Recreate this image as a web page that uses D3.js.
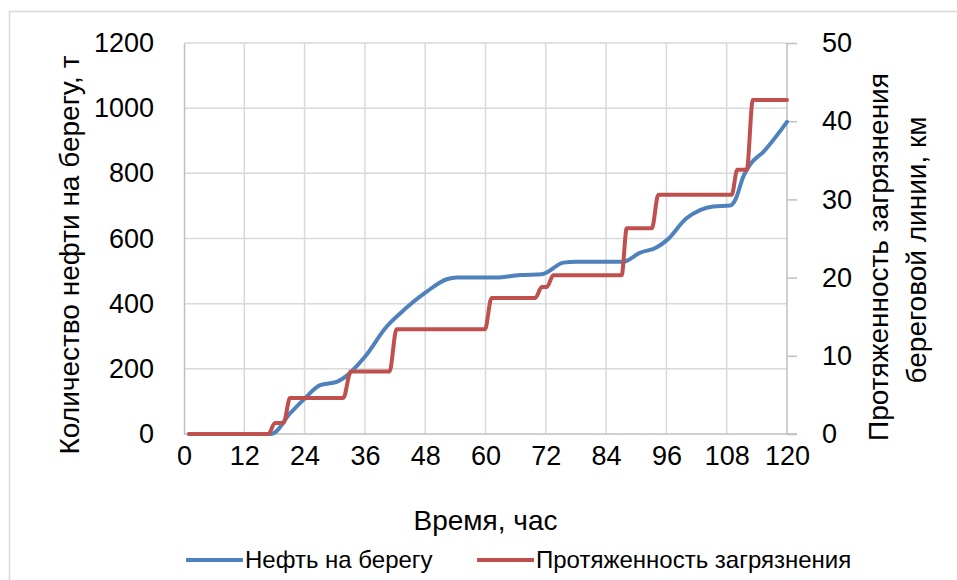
<!DOCTYPE html>
<html><head><meta charset="utf-8">
<script src="https://cdn.jsdelivr.net/npm/d3@7"></script>
<style>
body{margin:0;background:#fff;}
svg{display:block;font-family:"Liberation Sans",Arial,sans-serif;}
</style></head>
<body><svg id="c" width="957" height="580"></svg>
<script>
// ---- data ----
const oilHours = [1, 17.4, 21.1, 23.7, 27.1, 30.4, 31.7, 36, 40.3, 43, 48.3, 52.3, 54.3, 62.2, 66.9, 71.2, 75.5, 78.1, 87.4, 90.7, 94.1, 96.1, 100, 102.7, 105.3, 108.7, 109.7, 111.3, 112.6, 115.3, 120];
const oilTons  = [0, 0, 63, 104, 150, 160, 171, 237, 329, 370, 437, 475, 480, 480, 488, 490, 526, 529, 529, 556, 573, 595, 662, 687, 698, 701, 718, 790, 826, 866, 958];
const lenHours = [1, 16.8, 18.1, 19.8, 21.1, 31.7, 33.2, 40.9, 42.3, 59.9, 61.2, 69.9, 71.2, 72.2, 73.5, 87.1, 88.1, 93.1, 94.4, 109, 110.1, 112, 113.2, 120];
const lenKm    = [0, 0, 1.4, 1.4, 4.6, 4.6, 8.0, 8.0, 13.4, 13.4, 17.4, 17.4, 18.8, 18.8, 20.3, 20.3, 26.3, 26.3, 30.6, 30.6, 33.8, 33.8, 42.7, 42.7];
const xTicks = [0, 12, 24, 36, 48, 60, 72, 84, 96, 108, 120];
const leftTicks = [0, 200, 400, 600, 800, 1000, 1200];
const rightTicks = [0, 10, 20, 30, 40, 50];
const seriesNames = ["Нефть на берегу", "Протяженность загрязнения"];
const xTitle = "Время, час";
const leftTitle = "Количество нефти на берегу, т";
const rightTitle = ["Протяженность загрязнения", "береговой линии, км"];

// ---- layout ----
const L = 184, T = 43, R = 787, B = 434;
const blue = "#4F81BD", red = "#C0504D", grid = "#D9D9D9", axisC = "#BFBFBF";
const svg = d3.select("#c");

svg.append("rect").attr("x", 9.5).attr("y", 11.5).attr("width", 1000).attr("height", 700)
  .attr("fill", "none").attr("stroke", grid).attr("stroke-width", 1.5);

const x = d3.scaleLinear().domain([0, 120]).range([L, R]);
const yL = d3.scaleLinear().domain([0, 1200]).range([B, T]);
const yR = d3.scaleLinear().domain([0, 50]).range([B, T]);

// gridlines
const g = svg.append("g");
g.selectAll(".hg").data(leftTicks.filter(d => d > 0)).join("line")
  .attr("x1", L).attr("x2", R).attr("y1", d => yL(d)).attr("y2", d => yL(d))
  .attr("stroke", grid).attr("stroke-width", 1.5);
g.selectAll(".vg").data(xTicks.filter(d => d > 0 && d < 120)).join("line")
  .attr("x1", d => x(d)).attr("x2", d => x(d)).attr("y1", T).attr("y2", B)
  .attr("stroke", grid).attr("stroke-width", 1.5);

// axes
const fontTick = 27;
const ax = svg.append("g").attr("transform", `translate(0,${B})`)
  .call(d3.axisBottom(x).tickValues(xTicks).tickSize(0).tickPadding(12).tickFormat(d3.format("d")));
ax.select(".domain").attr("stroke", axisC).attr("stroke-width", 1.5).attr("d", `M${L},0H${R + 10}`);
ax.selectAll("text").attr("font-size", fontTick).attr("fill", "#000").attr("font-family", null);

const al = svg.append("g").attr("transform", `translate(${L},0)`)
  .call(d3.axisLeft(yL).tickValues(leftTicks).tickSize(0).tickPadding(30).tickFormat(d3.format("d")));
al.select(".domain").attr("stroke", axisC).attr("stroke-width", 1.5);
al.selectAll("text").attr("font-size", fontTick).attr("fill", "#000").attr("font-family", null);

const ar = svg.append("g").attr("transform", `translate(${R},0)`)
  .call(d3.axisRight(yR).tickValues(rightTicks).tickSize(10).tickPadding(25).tickFormat(d3.format("d")));
ar.select(".domain").attr("stroke", axisC).attr("stroke-width", 1.5).attr("d", `M0,${T}V${B}`);
ar.selectAll(".tick line").attr("stroke", axisC).attr("stroke-width", 1.5);
ar.selectAll("text").attr("font-size", fontTick).attr("fill", "#000").attr("font-family", null);

// lines
const curve = d3.curveMonotoneX;
const oilLine = d3.line().x((d, i) => x(oilHours[i])).y(d => yL(d)).curve(curve);
const lenLine = d3.line().x((d, i) => x(lenHours[i])).y(d => yR(d)).curve(curve);
svg.append("path").attr("d", oilLine(oilTons)).attr("fill", "none").attr("stroke", blue)
  .attr("stroke-width", 4).attr("stroke-linejoin", "round").attr("stroke-linecap", "round");
svg.append("path").attr("d", lenLine(lenKm)).attr("fill", "none").attr("stroke", red)
  .attr("stroke-width", 4).attr("stroke-linejoin", "round").attr("stroke-linecap", "round");

// titles
const fontTitle = 28;
svg.append("text").attr("x", (L + R) / 2).attr("y", 530).attr("text-anchor", "middle")
  .attr("font-size", fontTitle).text(xTitle);
svg.append("text").attr("transform", `translate(79,255) rotate(-90)`).attr("text-anchor", "middle")
  .attr("font-size", fontTitle).text(leftTitle);
svg.append("text").attr("transform", `translate(888,257) rotate(-90)`).attr("text-anchor", "middle")
  .attr("font-size", fontTitle).text(rightTitle[0]);
svg.append("text").attr("transform", `translate(926,250) rotate(-90)`).attr("text-anchor", "middle")
  .attr("font-size", fontTitle).text(rightTitle[1]);

// legend
const legY = 560;
const leg = [{c: blue, x0: 186, name: seriesNames[0]}, {c: red, x0: 477, name: seriesNames[1]}];
leg.forEach(l => {
  svg.append("line").attr("x1", l.x0).attr("x2", l.x0 + 57).attr("y1", legY).attr("y2", legY)
    .attr("stroke", l.c).attr("stroke-width", 4);
  svg.append("text").attr("x", l.x0 + 59).attr("y", legY + 8).attr("font-size", 24).text(l.name);
});
</script></body></html>
